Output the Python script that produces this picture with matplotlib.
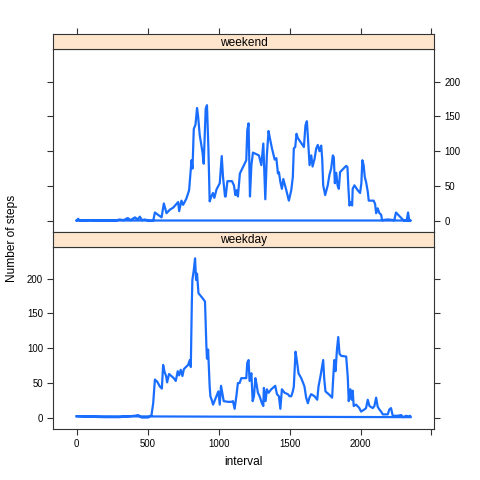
import numpy as np
import matplotlib
matplotlib.use('Agg')
from matplotlib import pyplot as plt

plt.rcParams['font.family'] = ['Liberation Sans', 'DejaVu Sans']

# mean steps per 5-minute interval
weekend_x = [0, 10, 20, 100, 130, 200, 280, 300, 330, 360, 380, 410, 430, 445, 460, 480, 510, 539,
             551, 598, 614, 633, 656, 680, 715, 722, 738, 750, 773, 792, 809, 816, 825, 837, 848,
             855, 867, 886, 895, 909, 918, 928, 937, 949, 960, 970, 985, 1008, 1022, 1031, 1045, 1050, 1062,
             1094, 1108, 1118, 1127, 1136, 1150, 1195, 1202, 1211, 1221, 1231, 1242, 1284, 1301,
             1315, 1329, 1340, 1352, 1361, 1376, 1395, 1407, 1418, 1425, 1435, 1446, 1456, 1477,
             1495, 1512, 1523, 1530, 1540, 1549, 1558, 1601, 1612, 1622, 1629, 1641, 1653, 1662,
             1676, 1688, 1699, 1711, 1723, 1730, 1737, 1751, 1769, 1781, 1793, 1805, 1812, 1819,
             1829, 1838, 1847, 1856, 1899, 1908, 1915, 1922, 1931, 1941, 1945, 1957, 1980, 1997,
             2006, 2013, 2022, 2030, 2039, 2051, 2058, 2093, 2103, 2110, 2121, 2133, 2145, 2152,
             2192, 2238, 2250, 2297, 2309, 2325, 2335, 2344, 2355, 0]
weekend_y = [0.5, 3, 0.5, 1, 0.5, 0.5, 0.5, 2, 1, 4, 1, 5, 2, 6, 1, 2, 0, 0,
             12, 5, 25, 11, 16, 19, 27, 14, 29, 23, 32, 44, 87, 75, 132, 138, 162,
             151, 123, 99, 82, 161, 166, 104, 28, 35, 40, 33, 45, 54, 93, 63, 35, 35, 57,
             57, 51, 37, 44, 35, 68, 87, 130, 140, 35, 80, 98, 94, 80,
             111, 31, 94, 129, 119, 104, 88, 90, 68, 70, 56, 46, 60, 44,
             29, 44, 63, 104, 106, 125, 119, 106, 137, 143, 121, 80, 94, 78,
             89, 104, 109, 100, 108, 89, 51, 37, 51, 66, 75, 94, 91, 54,
             69, 51, 46, 70, 79, 77, 46, 22, 27, 22, 46, 51, 44, 40,
             54, 87, 80, 63, 56, 42, 29, 29, 24, 11, 18, 11, 9, 1,
             2, 1, 12, 2, 0, 0, 12, 0, 0.5, 0.5]

weekday_x = [0, 100, 200, 300, 410, 433, 457, 504, 527, 539, 551, 567, 586, 600, 609, 619, 630,
             637, 651, 668, 684, 698, 712, 722, 733, 745, 755, 785, 797, 804, 811, 815, 825, 834,
             841, 848, 858, 890, 904, 914, 918, 926, 937, 942, 951, 961, 984, 998, 1008, 1017,
             1036, 1066, 1090, 1101, 1113, 1125, 1136, 1148, 1160, 1195, 1202, 1211, 1218, 1231,
             1240, 1249, 1259, 1266, 1277, 1289, 1305, 1315, 1319, 1331, 1340, 1352, 1371, 1399,
             1411, 1425, 1435, 1446, 1465, 1488, 1500, 1512, 1523, 1530, 1537, 1542, 1551, 1563,
             1582, 1594, 1605, 1617, 1629, 1640, 1652, 1676, 1695, 1704, 1718, 1727, 1737, 1744,
             1753, 1781, 1800, 1805, 1815, 1824, 1834, 1843, 1852, 1864, 1899, 1910, 1917, 1929,
             1938, 1945, 1952, 1969, 1992, 2004, 2027, 2039, 2051, 2063, 2086, 2098, 2110, 2121,
             2133, 2145, 2157, 2192, 2203, 2215, 2227, 2262, 2286, 2302, 2321, 2339, 2349, 2355, 0]
weekday_y = [2.3, 1.5, 1, 1, 3, 4, 0.5, 0.5, 4, 21, 55, 52, 45, 42, 76, 66, 60,
             51, 63, 60, 57, 53, 67, 61, 69, 60, 70, 76, 83, 73, 162, 198, 212, 229,
             198, 207, 179, 171, 167, 102, 85, 98, 45, 31, 26, 19, 31, 38, 19, 46,
             24, 23, 23, 24, 13, 31, 50, 50, 57, 57, 79, 83, 53, 64,
             24, 31, 57, 50, 36, 31, 21, 17, 43, 24, 41, 36, 41, 46,
             34, 31, 13, 41, 36, 34, 31, 31, 38, 45, 74, 95, 83, 64,
             57, 51, 45, 29, 21, 29, 34, 31, 26, 45, 60, 71, 83, 57,
             38, 33, 29, 48, 83, 67, 98, 116, 92, 89, 88, 59, 24, 41,
             26, 39, 17, 19, 14, 9, 12, 14, 26, 17, 14, 17, 29, 16,
             12, 9, 5, 5, 12, 14, 3, 3, 4, 1, 3, 2, 3, 1, 2.3]

panels = [('weekend', weekend_x, weekend_y), ('weekday', weekday_x, weekday_y)]
xticks = [0, 500, 1000, 1500, 2000, 2500]
yticks = [0, 50, 100, 150, 200]
xlim = (-165, 2520)
ylim = (-16, 246)

line_col = '#1a6eff'
strip_col = '#ffe5cc'
tick_fs = 6.9

fig = plt.figure(figsize=(4.8, 4.8), dpi=100)
W = 480.0
left = 53.3 / W
width = 381 / W
h = 182.5 / W
sh = 15 / W

ax_top = fig.add_axes([left, (480 - 232) / W, width, h])
ax_bot = fig.add_axes([left, (480 - 429) / W, width, h])
st_top = fig.add_axes([left, (480 - 49.3) / W, width, sh])
st_bot = fig.add_axes([left, (480 - 246.7) / W, width, (246.7 - 232) / W])

for ax, (name, xs, ys) in zip([ax_top, ax_bot], panels):
    ax.plot(xs, ys, color=line_col, lw=1.6, solid_joinstyle='round')
    ax.set_xlim(xlim)
    ax.set_ylim(ylim)
    ax.set_yticks(yticks)
    ax.tick_params(length=4.3, width=0.8, color='#333333', labelsize=tick_fs, pad=3)
    for s in ax.spines.values():
        s.set_color('#333333')
        s.set_linewidth(0.8)

# top panel: labels on the right, bare ticks on the left
ax_top.set_xticks([])
ax_top.tick_params(axis='y', left=True, right=True, labelleft=False, labelright=True)

# bottom panel: labels on the left, bare ticks on the right
ax_bot.set_xticks(xticks)
ax_bot.set_xticklabels(['0', '500', '1000', '1500', '2000', ''])
ax_bot.tick_params(axis='y', left=True, right=True, labelleft=True, labelright=False)

for st, (name, xs, ys) in zip([st_top, st_bot], panels):
    st.set_facecolor(strip_col)
    st.set_xlim(xlim)
    st.set_yticks([])
    st.set_xticks([])
    for s in st.spines.values():
        s.set_color('#333333')
        s.set_linewidth(0.8)
    st.text(0.5, 0.45, name, transform=st.transAxes, ha='center', va='center', fontsize=8.6)

# ticks along the top of the whole layout
st_top.set_xticks(xticks)
st_top.tick_params(axis='x', bottom=False, top=True, labelbottom=False, labeltop=False,
                   length=4.3, width=0.8, color='#333333')

fig.text(12 / W, 1 - 238 / W, 'Number of steps', rotation=90, ha='center', va='center', fontsize=8.6)
fig.text((53.3 + 434.3) / 2 / W, 1 - 462 / W, 'interval', ha='center', va='center', fontsize=8.6)

fig.savefig('out.png', dpi=100)
